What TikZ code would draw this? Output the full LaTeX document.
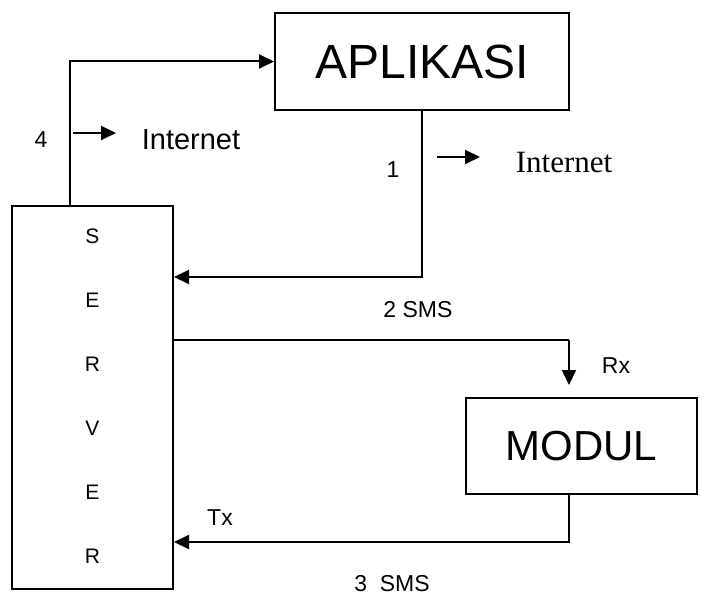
\documentclass[tikz,border=0pt]{standalone}
\usepackage{fontspec}
\setmainfont{Liberation Sans}
\newfontfamily\serifx{Liberation Serif}
\usetikzlibrary{arrows.meta}
\tikzset{
  box/.style={draw, line width=2pt, inner sep=0pt},
  arr/.style={line width=2pt, -{Triangle[length=15pt,width=14pt]}},
  lbl/.style={inner sep=0pt, font=\fontsize{23}{23}\selectfont},
  letter/.style={inner sep=0pt, font=\fontsize{21}{21}\selectfont},
}
\begin{document}
\begin{tikzpicture}[x=1pt,y=-1pt]
\useasboundingbox (0,0) rectangle (706,596);
\node[box, minimum width=294pt, minimum height=97pt, font=\fontsize{48}{48}\selectfont] (app) at (422,61.5) {APLIKASI};
\node[box, minimum width=161pt, minimum height=383pt] (server) at (92.5,397.5) {};
\node[box, minimum width=231pt, minimum height=96pt, font=\fontsize{42}{42}\selectfont] (modul) at (581.5,446) {MODUL};

\node[letter] (l1) at (92.5,236.5) {S};
\node[letter] (l2) at (92.5,300) {E};
\node[letter] (l3) at (92.5,364) {R};
\node[letter] (l4) at (92.5,428) {V};
\node[letter] (l5) at (92.5,492) {E};
\node[letter] (l6) at (92.5,556) {R};

\coordinate (c4) at (70,61.5);
\coordinate (s1) at (422,277);
\coordinate (c2) at (569,340);
\coordinate (rx) at (569,385);
\coordinate (c3) at (569,542);

\draw[arr] (server.north -| c4) -- (c4) -- (app.west);
\draw[arr] (app.south) -- (s1) -- (server.east |- s1);
\draw[line width=2pt] (server.east |- c2) -- (c2);
\draw[arr] (c2) -- (rx);
\draw[arr] (modul.south -| c3) -- (c3) -- (server.east |- c3);

\coordinate (a4s) at (73,133);
\coordinate (a4e) at (116,133);
\coordinate (a1s) at (437,157);
\coordinate (a1e) at (480,157);
\draw[arr] (a4s) -- (a4e);
\draw[arr] (a1s) -- (a1e);

\node[lbl] (t4) at (41,140) {4};
\node[inner sep=0pt, font=\fontsize{29}{29}\selectfont] (inet1) at (191,140) {Internet};
\node[lbl] (t1) at (393,170) {1};
\node[inner sep=0pt, font=\serifx\fontsize{31}{31}\selectfont] (inet2) at (564,163) {Internet};
\node[lbl] (t2) at (418,310) {2 SMS};
\node[lbl] (rxl) at (616,366) {Rx};
\node[lbl] (txl) at (220,518) {Tx};
\node[lbl] (t3) at (392,584) {3\ \ SMS};
\end{tikzpicture}
\end{document}
